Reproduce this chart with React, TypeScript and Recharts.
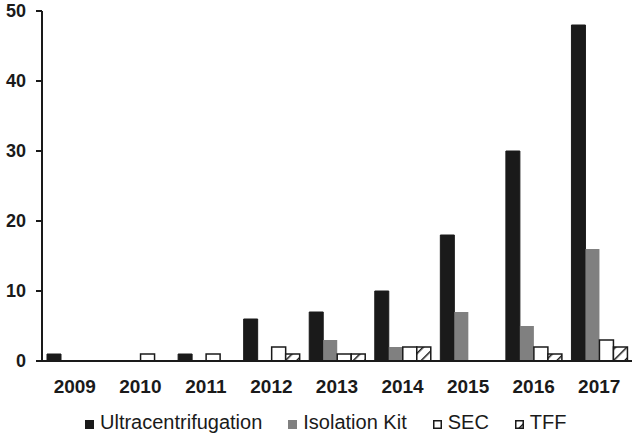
import React from 'react';
import { BarChart, Bar, XAxis, YAxis, Legend } from 'recharts';

const years = ['2009', '2010', '2011', '2012', '2013', '2014', '2015', '2016', '2017'];
const ultracentrifugation = [1, 0, 1, 6, 7, 10, 18, 30, 48];
const isolationKit = [0, 0, 0, 0, 3, 2, 7, 5, 16];
const sec = [0, 1, 1, 2, 1, 2, 0, 2, 3];
const tff = [0, 0, 0, 1, 1, 2, 0, 1, 2];
const yTicks = [0, 10, 20, 30, 40, 50];

const data = years.map((y, i) => ({
  year: y,
  uc: ultracentrifugation[i],
  kit: isolationKit[i],
  sec: sec[i],
  tff: tff[i],
}));

const FONT = '"Liberation Sans", Arial, sans-serif';
const INK = '#1a1a1a';

const legendItems = [
  { label: 'Ultracentrifugation', fill: INK, stroke: INK },
  { label: 'Isolation Kit', fill: '#808080', stroke: '#808080' },
  { label: 'SEC', fill: '#ffffff', stroke: INK },
  { label: 'TFF', fill: 'url(#hatchTFF)', stroke: INK },
];

const LegendContent = () => (
  <div
    style={{
      display: 'flex',
      justifyContent: 'flex-start',
      alignItems: 'baseline',
      fontFamily: FONT,
      fontSize: 20,
      color: INK,
      paddingLeft: 85,
      paddingTop: 3,
    }}
  >
    {legendItems.map((it, i) => (
      <div key={it.label} style={{ display: 'flex', alignItems: 'baseline', marginLeft: i === 0 ? 0 : 26 }}>
        <svg width={9} height={9} style={{ marginRight: 6 }}>
          <rect x={0.75} y={0.75} width={7.5} height={7.5} fill={it.fill} stroke={it.stroke} strokeWidth={1.5} />
        </svg>
        <span>{it.label}</span>
      </div>
    ))}
  </div>
);

export default function App() {
  return (
    <div style={{ position: 'absolute', left: 0, top: 0, width: 634, height: 438, background: '#fff' }}>
      <svg width={0} height={0} style={{ position: 'absolute' }}>
        <defs>
          <pattern id="hatchTFF" patternUnits="userSpaceOnUse" width={8} height={8} patternTransform="rotate(45)">
            <rect x={0} y={0} width={8} height={8} fill="#fff" />
            <line x1={0} y1={0} x2={0} y2={8} stroke={INK} strokeWidth={3} />
          </pattern>
        </defs>
      </svg>
      <BarChart
        width={634}
        height={438}
        data={data}
        margin={{ top: 11, right: 2, left: 0, bottom: 0 }}
        barGap={0}
        barCategoryGap={5}
      >
        <XAxis
          dataKey="year"
          axisLine={{ stroke: INK, strokeWidth: 2 }}
          tickLine={false}
          tickSize={8}
          tickMargin={11}
          height={47}
          interval={0}
          tick={{ fill: INK, fontFamily: FONT, fontSize: 19, fontWeight: 'bold' }}
        />
        <YAxis
          domain={[0, 50]}
          ticks={yTicks}
          width={42}
          axisLine={{ stroke: INK, strokeWidth: 2 }}
          tickLine={{ stroke: INK, strokeWidth: 2 }}
          tickSize={6}
          tickMargin={10}
          tick={{ fill: INK, fontFamily: FONT, fontSize: 18, fontWeight: 'bold' }}
        />
        <Legend verticalAlign="bottom" height={30} content={<LegendContent />} />
        <Bar dataKey="uc" fill={INK} stroke={INK} strokeWidth={1} isAnimationActive={false} />
        <Bar dataKey="kit" fill="#808080" isAnimationActive={false} />
        <Bar dataKey="sec" fill="#ffffff" stroke={INK} strokeWidth={1.5} isAnimationActive={false} />
        <Bar dataKey="tff" fill="url(#hatchTFF)" stroke={INK} strokeWidth={1.5} isAnimationActive={false} />
      </BarChart>
    </div>
  );
}
